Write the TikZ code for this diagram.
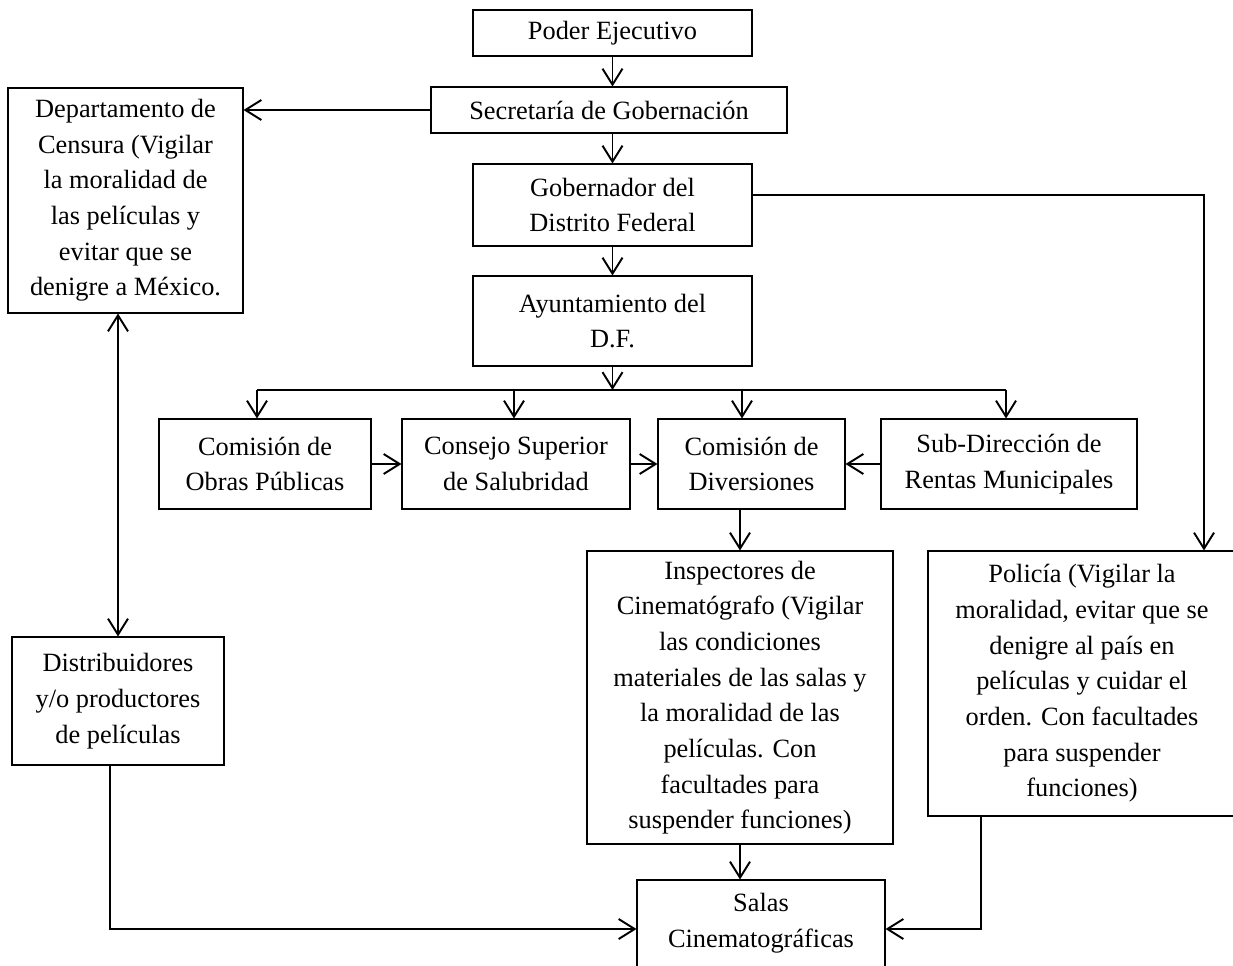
\documentclass[tikz,border=0pt]{standalone}
\usepackage{fontspec}
\setmainfont{Liberation Serif}
\usetikzlibrary{positioning,arrows.meta}

\tikzset{
  box/.style={draw, line width=0.6pt, align=center, inner sep=0pt,
    font=\fontsize{15}{20.3}\selectfont},
  conn/.style={line width=1.1pt, -{Straight Barb[length=3.2mm,width=4mm]}},
  twoway/.style={line width=1.1pt,
    {Straight Barb[length=3.2mm,width=4mm]}-{Straight Barb[length=3.2mm,width=4mm]}},
  plain/.style={line width=1.1pt}
}

\begin{document}
\begin{tikzpicture}[x=0.02cm, y=-0.02cm]
\def\px{0.02cm}

\def\xm{612.5}
\def\ya{33}
\def\yb{110}
\def\yc{205}
\def\yd{321}
\def\ye{464}

\useasboundingbox (0,0) rectangle (1233,966);

\node[box, minimum width=279*\px, minimum height=46*\px] (poder) at (\xm, \ya) {Poder Ejecutivo};
\node[box, minimum width=356*\px, minimum height=46*\px] (secre) at (609, \yb) {Secretaría de Gobernación};
\node[box, minimum width=279*\px, minimum height=82*\px] (gober) at (\xm, \yc) {Gobernador del\\Distrito Federal};
\node[box, minimum width=279*\px, minimum height=90*\px] (ayunt) at (\xm, \yd) {Ayuntamiento del\\D.F.};

\node[box, minimum width=235*\px, minimum height=225*\px] (censura) at (125.5, 200.5)
  {Departamento de\\Censura (Vigilar\\la moralidad de\\las películas y\\evitar que se\\denigre a México.};

\node[box, minimum width=212*\px, minimum height=90*\px] (obras) at (265, \ye) {Comisión de\\Obras Públicas};
\node[box, minimum width=228*\px, minimum height=90*\px] (consejo) at (516, \ye) {Consejo Superior\\de Salubridad};
\node[box, minimum width=187*\px, minimum height=90*\px] (divers) at (751.5, \ye) {Comisión de\\Diversiones};
\node[box, minimum width=256*\px, minimum height=90*\px] (subdir) at (1009, \ye) {Sub-Dirección de\\Rentas Municipales};

\node[box, minimum width=306*\px, minimum height=293*\px] (inspect) at (740, 697.5)
  {Inspectores de\\Cinematógrafo (Vigilar\\las condiciones\\materiales de las salas y\\la moralidad de las\\películas. Con\\facultades para\\suspender funciones)};
\node[box, minimum width=308*\px, minimum height=265*\px] (policia) at (1082, 683.5)
  {Policía (Vigilar la\\moralidad, evitar que se\\denigre al país en\\películas y cuidar el\\orden. Con facultades\\para suspender\\funciones)};
\node[box, minimum width=212*\px, minimum height=128*\px] (distrib) at (118, 701)
  {Distribuidores\\y/o productores\\de películas};
\node[box, minimum width=248*\px, minimum height=87*\px] (salas) at (761, 923.5)
  {Salas\\Cinematográficas};

\coordinate (b1) at (257, 390);
\coordinate (b2) at (514, 390);
\coordinate (b3) at (742, 390);
\coordinate (b4) at (1006, 390);
\coordinate (gp) at (1204, 195);
\coordinate (dp) at (110, 929);
\coordinate (pp) at (981, 929);

\draw[conn] (poder.south) -- (poder.south |- secre.north);
\draw[conn] (secre.south -| gober.north) -- (gober.north);
\draw[conn] (gober.south) -- (ayunt.north);
\draw[conn] (secre.west) -- (secre.west -| censura.east);

\draw[conn] (ayunt.south) -- (ayunt.south |- b1);
\draw[plain] (b1) -- (b4);
\draw[conn] (b1) -- (b1 |- obras.north);
\draw[conn] (b2) -- (b2 |- consejo.north);
\draw[conn] (b3) -- (b3 |- divers.north);
\draw[conn] (b4) -- (b4 |- subdir.north);

\draw[conn] (obras.east) -- (consejo.west);
\draw[conn] (consejo.east) -- (divers.west);
\draw[conn] (subdir.west) -- (divers.east);

\draw[conn] (inspect.north |- divers.south) -- (inspect.north);
\draw[conn] (inspect.south) -- (inspect.south |- salas.north);

\draw[conn] (gober.east |- gp) -- (gp) -- (gp |- policia.north);
\draw[twoway] (censura.south -| distrib.north) -- (distrib.north);

\draw[conn] (distrib.south -| dp) -- (dp) -- (dp -| salas.west);
\draw[conn] (policia.south -| pp) -- (pp) -- (pp -| salas.east);

\end{tikzpicture}
\end{document}
